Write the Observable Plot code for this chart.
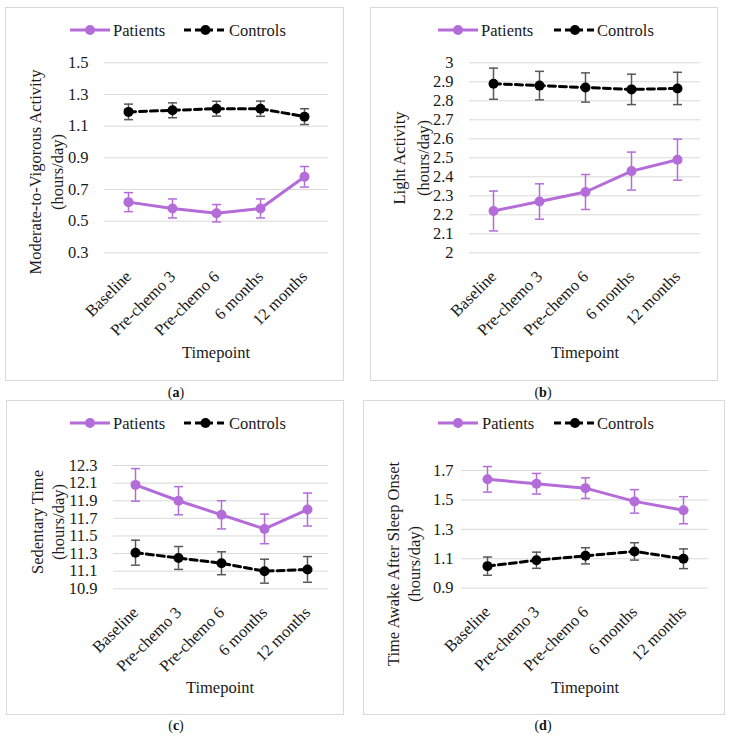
<!DOCTYPE html>
<html><head><meta charset="utf-8">
<script src="https://cdn.jsdelivr.net/npm/d3@7"></script>
<script src="https://cdn.jsdelivr.net/npm/@observablehq/plot@0.6"></script>
<style>
body{margin:0;background:#fff;font-family:"Liberation Serif",serif;}
#root{position:relative;width:732px;height:737px;background:#fff;}
.panel{position:absolute;}
.panel svg{position:absolute;left:0;top:0;outline:1px solid #d9d9d9;outline-offset:-1px;}
.cap{position:absolute;font-size:14px;color:#111;transform:translate(-50%,-50%);font-family:"Liberation Serif",serif;}
</style></head><body><div id="root"></div><script>
const timepoints = ["Baseline", "Pre-chemo 3", "Pre-chemo 6", "6 months", "12 months"];
const seriesNames = ["Patients", "Controls"];

// (a) Moderate-to-Vigorous Activity
const mvpaPatients = [0.62, 0.58, 0.55, 0.58, 0.78];
const mvpaPatientsErr = [0.06, 0.06, 0.055, 0.06, 0.065];
const mvpaControls = [1.19, 1.20, 1.21, 1.21, 1.16];
const mvpaControlsErr = [0.049, 0.047, 0.047, 0.048, 0.05];
const mvpaTicks = [0.3, 0.5, 0.7, 0.9, 1.1, 1.3, 1.5];

// (b) Light Activity
const lightPatients = [2.22, 2.27, 2.32, 2.43, 2.49];
const lightPatientsErr = [0.105, 0.093, 0.092, 0.10, 0.108];
const lightControls = [2.89, 2.88, 2.87, 2.86, 2.865];
const lightControlsErr = [0.082, 0.075, 0.077, 0.08, 0.085];
const lightTicks = [2, 2.1, 2.2, 2.3, 2.4, 2.5, 2.6, 2.7, 2.8, 2.9, 3];

// (c) Sedentary Time
const sedPatients = [12.08, 11.90, 11.74, 11.58, 11.80];
const sedPatientsErr = [0.185, 0.16, 0.16, 0.168, 0.187];
const sedControls = [11.31, 11.25, 11.19, 11.10, 11.12];
const sedControlsErr = [0.142, 0.13, 0.13, 0.136, 0.146];
const sedTicks = [10.9, 11.1, 11.3, 11.5, 11.7, 11.9, 12.1, 12.3];

// (d) Time Awake After Sleep Onset
const wasoPatients = [1.64, 1.61, 1.58, 1.49, 1.43];
const wasoPatientsErr = [0.087, 0.07, 0.07, 0.08, 0.092];
const wasoControls = [1.05, 1.09, 1.12, 1.15, 1.10];
const wasoControlsErr = [0.062, 0.055, 0.055, 0.059, 0.067];
const wasoTicks = [0.9, 1.1, 1.3, 1.5, 1.7];

const PURPLE = "#b46cd9";
const BLACK = "#000000";
const ERRGREY = "#595959";
const FONT = "'Liberation Serif', 'Times New Roman', serif";
const FS = 16.5;

const panels = [
  {id:"a", left:5, top:7, w:339, h:374, mL:99, mR:16, mT:55.3, mB:128.7, ypad:16,
   p:mvpaPatients, pe:mvpaPatientsErr, c:mvpaControls, ce:mvpaControlsErr, ticks:mvpaTicks,
   legend:{y:23, p:[65,105], pt:108, c:[179,222], ct:224},
   ytitle:["Moderate-to-Vigorous Activity","(hours/day)"], yx:[30,52], ycy:165,
   xt:[211,345], cap:[176,393]},
  {id:"b", left:370, top:7, w:348, h:374, mL:99, mR:18, mT:55.3, mB:128.7, ypad:16,
   p:lightPatients, pe:lightPatientsErr, c:lightControls, ce:lightControlsErr, ticks:lightTicks,
   legend:{y:23, p:[68,108], pt:111, c:[184,226], ct:227},
   ytitle:["Light Activity","(hours/day)"], yx:[29,53], ycy:151,
   xt:[215,345], cap:[543,393]},
  {id:"c", left:6, top:400, w:338, h:315, mL:107, mR:16, mT:65, mB:126.7, ypad:16,
   p:sedPatients, pe:sedPatientsErr, c:sedControls, ce:sedControlsErr, ticks:sedTicks,
   legend:{y:23, p:[64,104], pt:107, c:[178,221], ct:223},
   ytitle:["Sedentary Time","(hours/day)"], yx:[31,52], ycy:122,
   xt:[214,287], cap:[176,726]},
  {id:"d", left:363, top:400, w:362, h:315, mL:98, mR:17, mT:70, mB:127.3, ypad:8,
   p:wasoPatients, pe:wasoPatientsErr, c:wasoControls, ce:wasoControlsErr, ticks:wasoTicks,
   legend:{y:23, p:[75,115], pt:119, c:[191,233], ct:234},
   ytitle:["Time Awake After Sleep Onset","(hours/day)"], yx:[30,51], ycy:164,
   xt:[222,287], cap:[543,726]}
];

const capSymbol = {draw(ctx){ ctx.moveTo(-4.5,0); ctx.lineTo(4.5,0); }};
const root = document.getElementById("root");

for (const cfg of panels) {
  const pat = timepoints.map((t,i)=>({tp:t, v:cfg.p[i], e:cfg.pe[i]}));
  const con = timepoints.map((t,i)=>({tp:t, v:cfg.c[i], e:cfg.ce[i]}));
  const errMarks = (data, color) => [
    Plot.ruleX(data, {x:"tp", y1:d=>d.v-d.e, y2:d=>d.v+d.e, stroke:color, strokeWidth:1.5}),
    Plot.dot(data, {x:"tp", y:d=>d.v-d.e, symbol:capSymbol, stroke:color, fill:"none", strokeWidth:1.5}),
    Plot.dot(data, {x:"tp", y:d=>d.v+d.e, symbol:capSymbol, stroke:color, fill:"none", strokeWidth:1.5})
  ];
  const chart = Plot.plot({
    width: cfg.w, height: cfg.h,
    marginLeft: cfg.mL, marginRight: cfg.mR, marginTop: cfg.mT, marginBottom: cfg.mB,
    style: {fontFamily: FONT, fontSize: FS + "px", color: "#1a1a1a", background: "transparent", overflow: "visible"},
    x: {type:"point", domain: timepoints, padding: 0.5},
    y: {domain: [cfg.ticks[0], cfg.ticks[cfg.ticks.length-1]]},
    marks: [
      Plot.gridY(cfg.ticks, {stroke:"#d9d9d9", strokeOpacity:1, strokeWidth:1}),
      Plot.axisY(cfg.ticks, {tickSize:0, tickPadding:cfg.ypad, label:null, fill:"#1a1a1a", tickFormat: d => String(d)}),
      Plot.axisX({tickSize:0, tickRotate:-45, tickPadding:21, label:null, fill:"#1a1a1a"}),
      ...errMarks(con, ERRGREY),
      ...errMarks(pat, PURPLE),
      Plot.line(con, {x:"tp", y:"v", stroke:BLACK, strokeWidth:3, strokeDasharray:"7,4"}),
      Plot.line(pat, {x:"tp", y:"v", stroke:PURPLE, strokeWidth:3}),
      Plot.dot(con, {x:"tp", y:"v", r:5, fill:BLACK}),
      Plot.dot(pat, {x:"tp", y:"v", r:5, fill:PURPLE})
    ]
  });
  const div = document.createElement("div");
  div.className = "panel";
  div.style.left = cfg.left + "px"; div.style.top = cfg.top + "px";
  div.style.width = cfg.w + "px"; div.style.height = cfg.h + "px";
  div.appendChild(chart);
  root.appendChild(div);

  const svg = d3.select(chart);
  const L = cfg.legend;
  const lg = svg.append("g").attr("font-family", FONT).attr("font-size", FS).attr("fill", "#1a1a1a").attr("text-anchor", "start");
  const entries = [
    {name: seriesNames[0], x: L.p, tx: L.pt, color: PURPLE, dash: null},
    {name: seriesNames[1], x: L.c, tx: L.ct, color: BLACK, dash: "7,4"}
  ];
  for (const e of entries) {
    lg.append("line").attr("x1", e.x[0]).attr("x2", e.x[1]).attr("y1", L.y).attr("y2", L.y)
      .attr("stroke", e.color).attr("stroke-width", 3).attr("stroke-dasharray", e.dash);
    lg.append("circle").attr("cx", (e.x[0]+e.x[1])/2).attr("cy", L.y).attr("r", 5).attr("fill", e.color);
    lg.append("text").attr("x", e.tx).attr("y", L.y).attr("dy", "0.35em").text(e.name);
  }
  const tg = svg.append("g").attr("font-family", FONT).attr("font-size", FS).attr("fill", "#1a1a1a").attr("text-anchor", "middle");
  cfg.ytitle.forEach((t, i) => {
    tg.append("text").attr("transform", `translate(${cfg.yx[i]},${cfg.ycy}) rotate(-90)`).attr("dy", "0.35em").text(t);
  });
  tg.append("text").attr("x", cfg.xt[0]).attr("y", cfg.xt[1]).attr("dy", "0.35em").text("Timepoint");

  const cap = document.createElement("div");
  cap.className = "cap";
  cap.style.left = cfg.cap[0] + "px"; cap.style.top = cfg.cap[1] + "px";
  cap.innerHTML = "(<b>" + cfg.id + "</b>)";
  root.appendChild(cap);
}
</script></body></html>
